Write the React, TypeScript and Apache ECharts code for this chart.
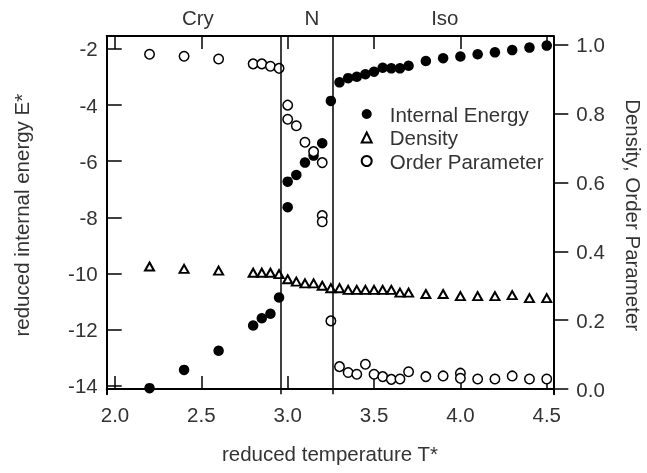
import React, { useEffect, useRef } from "react";
import * as echarts from "echarts";

// Internal energy (left axis)
const energyT = [2.2, 2.4, 2.6, 2.8, 2.85, 2.9, 2.95, 3.0, 3.0, 3.05, 3.1, 3.15, 3.2, 3.25, 3.3, 3.35, 3.4, 3.45, 3.5, 3.55, 3.6, 3.65, 3.7, 3.8, 3.9, 4.0, 4.1, 4.2, 4.3, 4.4, 4.5];
const energyE = [-14.09, -13.44, -12.76, -11.86, -11.6, -11.44, -10.86, -7.64, -6.73, -6.49, -6.05, -5.8, -5.36, -3.85, -3.19, -3.04, -2.99, -2.9, -2.81, -2.67, -2.69, -2.69, -2.6, -2.43, -2.33, -2.27, -2.19, -2.12, -2.04, -1.95, -1.88];

// Density (right axis)
const densityT = [2.2, 2.4, 2.6, 2.8, 2.85, 2.9, 2.95, 3.0, 3.05, 3.1, 3.15, 3.2, 3.25, 3.3, 3.35, 3.4, 3.45, 3.5, 3.55, 3.6, 3.65, 3.7, 3.8, 3.9, 4.0, 4.1, 4.2, 4.3, 4.4, 4.5];
const densityD = [0.356, 0.349, 0.344, 0.338, 0.338, 0.338, 0.334, 0.319, 0.312, 0.307, 0.307, 0.3, 0.293, 0.293, 0.288, 0.288, 0.288, 0.288, 0.288, 0.288, 0.28, 0.28, 0.276, 0.276, 0.27, 0.27, 0.27, 0.273, 0.264, 0.264];

// Order parameter (right axis)
const orderT = [2.2, 2.4, 2.6, 2.8, 2.85, 2.9, 2.95, 3.0, 3.0, 3.05, 3.1, 3.15, 3.2, 3.2, 3.2, 3.25, 3.3, 3.35, 3.4, 3.45, 3.5, 3.55, 3.6, 3.65, 3.7, 3.8, 3.9, 4.0, 4.0, 4.1, 4.2, 4.3, 4.4, 4.5];
const orderS = [0.973, 0.967, 0.959, 0.945, 0.945, 0.938, 0.932, 0.825, 0.784, 0.765, 0.717, 0.69, 0.658, 0.504, 0.486, 0.198, 0.065, 0.048, 0.043, 0.072, 0.043, 0.036, 0.028, 0.029, 0.05, 0.036, 0.038, 0.046, 0.031, 0.029, 0.029, 0.038, 0.029, 0.029];

const phaseBoundaryT = [2.965, 3.264];
const phaseLabels = ["Cry", "N", "Iso"];
const phaseLabelT = [2.48, 3.14, 3.91];

const xTicks = [2.0, 2.5, 3.0, 3.5, 4.0, 4.5];
const energyTicks = [-14, -12, -10, -8, -6, -4, -2];
const rightTicks = [0, 0.2, 0.4, 0.6, 0.8, 1.0];

const seriesNames = ["Internal Energy", "Density", "Order Parameter"];

export default function App() {
  const ref = useRef<HTMLDivElement>(null);
  useEffect(() => {
    const chart = echarts.init(ref.current!, null, { renderer: "svg" });
    const font = '"Liberation Sans", Arial, Helvetica, sans-serif';
    const txt = "#333";
    const fs = 20.5;
    const axisLine = { show: true, lineStyle: { color: "#000", width: 2 } };
    const tickStyle = { color: "#000", width: 1.5 };
    const xMin = 1.952, xMax = 4.538;
    chart.setOption({
      animation: false,
      textStyle: { fontFamily: font },
      grid: { left: 106.7, right: 93.7, top: 36, bottom: 78.7, containLabel: false, outerBoundsMode: "none" },
      legend: {
        orient: "vertical",
        left: 360.7,
        top: 103.5,
        padding: 0,
        itemWidth: 10,
        itemHeight: 10,
        itemGap: 2.5,
        textStyle: { fontSize: fs, color: txt, fontFamily: font, padding: [0, 0, 0, 13] },
        data: seriesNames,
      },
      xAxis: [
        {
          type: "value",
          position: "bottom",
          min: xMin,
          max: xMax,
          axisLine,
          splitLine: { show: false },
          axisTick: { show: true, inside: true, length: 13, customValues: xTicks, lineStyle: tickStyle },
          axisLabel: { customValues: xTicks, formatter: (v: number) => v.toFixed(1), fontSize: fs, color: txt, margin: 10, fontFamily: font },
          name: "reduced temperature T*",
          nameLocation: "middle",
          nameGap: 49,
          nameTextStyle: { fontSize: fs, color: txt, fontFamily: font },
        },
        {
          type: "value",
          position: "top",
          min: xMin,
          max: xMax,
          axisLine,
          splitLine: { show: false },
          axisTick: { show: true, inside: true, length: 13, customValues: xTicks, lineStyle: tickStyle },
          axisLabel: { show: false },
        },
      ],
      yAxis: [
        {
          type: "value",
          position: "left",
          min: -14.31,
          max: -1.537,
          axisLine,
          splitLine: { show: false },
          axisTick: { show: true, inside: true, length: 15, customValues: energyTicks, lineStyle: tickStyle },
          axisLabel: { customValues: energyTicks, formatter: (v: number) => String(Math.round(v)), fontSize: fs, color: txt, margin: 9, fontFamily: font },
          name: "reduced internal energy E*",
          nameLocation: "middle",
          nameGap: 75,
          nameTextStyle: { fontSize: fs, color: txt, fontFamily: font },
        },
        {
          type: "value",
          position: "right",
          min: -0.0154,
          max: 1.026,
          axisLine,
          splitLine: { show: false },
          axisTick: { show: true, inside: false, length: 15, customValues: rightTicks, lineStyle: tickStyle },
          axisLabel: { customValues: rightTicks, formatter: (v: number) => v.toFixed(1), fontSize: fs, color: txt, margin: 23, fontFamily: font },
          name: "Density, Order Parameter",
          nameLocation: "middle",
          nameRotate: -90,
          nameGap: 70,
          nameTextStyle: { fontSize: fs, color: txt, fontFamily: font },
        },
      ],
      series: [
        {
          name: seriesNames[0],
          type: "scatter",
          xAxisIndex: 0,
          yAxisIndex: 0,
          symbol: "circle",
          symbolSize: 10.5,
          itemStyle: { color: "#000", opacity: 1 },
          data: energyT.map((t, i) => [t, energyE[i]]),
          markLine: {
            silent: true,
            symbol: "none",
            label: { show: false },
            lineStyle: { color: "#000", width: 1.5, type: "solid" },
            data: phaseBoundaryT.map((t) => ({ xAxis: t })),
          },
        },
        {
          name: seriesNames[1],
          type: "scatter",
          xAxisIndex: 0,
          yAxisIndex: 1,
          symbol: "triangle",
          symbolSize: [9, 8],
          itemStyle: { color: "#fff", borderColor: "#000", borderWidth: 2, opacity: 1 },
          data: densityT.map((t, i) => [t, densityD[i]]),
        },
        {
          name: seriesNames[2],
          type: "scatter",
          xAxisIndex: 0,
          yAxisIndex: 1,
          symbol: "circle",
          symbolSize: 9.5,
          itemStyle: { color: "#fff", borderColor: "#000", borderWidth: 1.5, opacity: 1 },
          data: orderT.map((t, i) => [t, orderS[i]]),
        },
      ],
    });
    const graphic = phaseLabels.map((label, i) => {
      const px = chart.convertToPixel({ xAxisIndex: 0 }, phaseLabelT[i]) as number;
      return {
        type: "text",
        x: px,
        y: 17.5,
        style: { text: label, fontSize: fs, fill: txt, align: "center", verticalAlign: "middle", fontFamily: font },
      };
    });
    chart.setOption({ graphic });
    return () => chart.dispose();
  }, []);
  return <div ref={ref} style={{ position: "fixed", left: 0, top: 0, width: 647, height: 473 }} />;
}
